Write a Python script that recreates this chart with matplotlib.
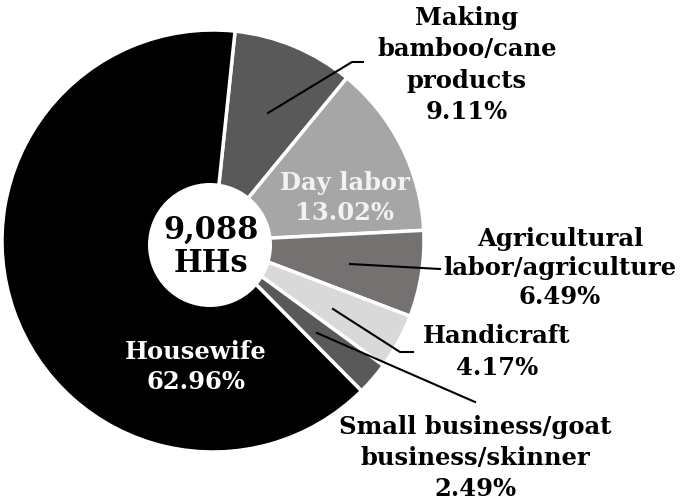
import matplotlib.pyplot as plt
from matplotlib.patches import Circle

# occupation shares (%) of household heads
categories = ['Making\nbamboo/cane\nproducts', 'Day labor', 'Agricultural\nlabor/agriculture',
              'Handicraft', 'Small business/goat\nbusiness/skinner', 'Housewife']
shares = [9.11, 13.02, 6.49, 4.17, 2.49, 62.96]
colors = ['#595959', '#a6a6a6', '#767171', '#d9d9d9', '#595959', '#000000']
total_hh = '9,088'

W, H = 681, 501
plt.rcParams['font.family'] = 'DejaVu Serif'


def px(x, y):
    # pixel position (top-left origin) -> axes data coords
    return (x, H - y)


fig = plt.figure(figsize=(W / 100, H / 100), dpi=100)
ax = fig.add_axes([0, 0, 1, 1])

ax.pie(shares, colors=colors, startangle=84, counterclock=False,
       center=px(213, 241), radius=211,
       wedgeprops=dict(edgecolor='white', linewidth=2.5))

# white disc in the middle with the sample size
ax.add_patch(Circle(px(210, 245), 62, facecolor='white', edgecolor='none', zorder=5))
ax.text(*px(211, 247), f'{total_hh}\nHHs', ha='center', va='center', fontsize=22,
        fontweight='bold', linespacing=1.1, zorder=6)

lbl = dict(ha='center', va='center', fontsize=17.5, fontweight='bold')

# labels inside the slices
ax.text(*px(345, 198), f'{categories[1]}\n{shares[1]:.2f}%', color='#f2f2f2',
        linespacing=1.36, **lbl)
ax.text(*px(196, 367), f'{categories[5]}\n{shares[5]:.2f}%', color='white',
        linespacing=1.36, **lbl)

# outside labels
ax.text(*px(467, 65), f'{categories[0]}\n{shares[0]:.2f}%', linespacing=1.4, **lbl)
ax.text(*px(560, 268), f'{categories[2]}\n{shares[2]:.2f}%', linespacing=1.25, **lbl)
ax.text(*px(497, 352), f'{categories[3]}\n{shares[3]:.2f}%', linespacing=1.4, **lbl)
ax.text(*px(475, 458), f'{categories[4]}\n{shares[4]:.2f}%', linespacing=1.36, **lbl)

# leader lines
leaders = [
    [(268, 113), (352, 62), (363, 62)],
    [(350, 264), (440, 269)],
    [(333, 309), (400, 352), (413, 352)],
    [(317, 333), (475, 402)],
]
for pts in leaders:
    xs, ys = zip(*[px(x, y) for x, y in pts])
    ax.plot(xs, ys, color='black', linewidth=1.5, zorder=7)

ax.set_xlim(0, W)
ax.set_ylim(0, H)
ax.set_aspect('equal')
ax.axis('off')

fig.savefig('out.png', dpi=100)
